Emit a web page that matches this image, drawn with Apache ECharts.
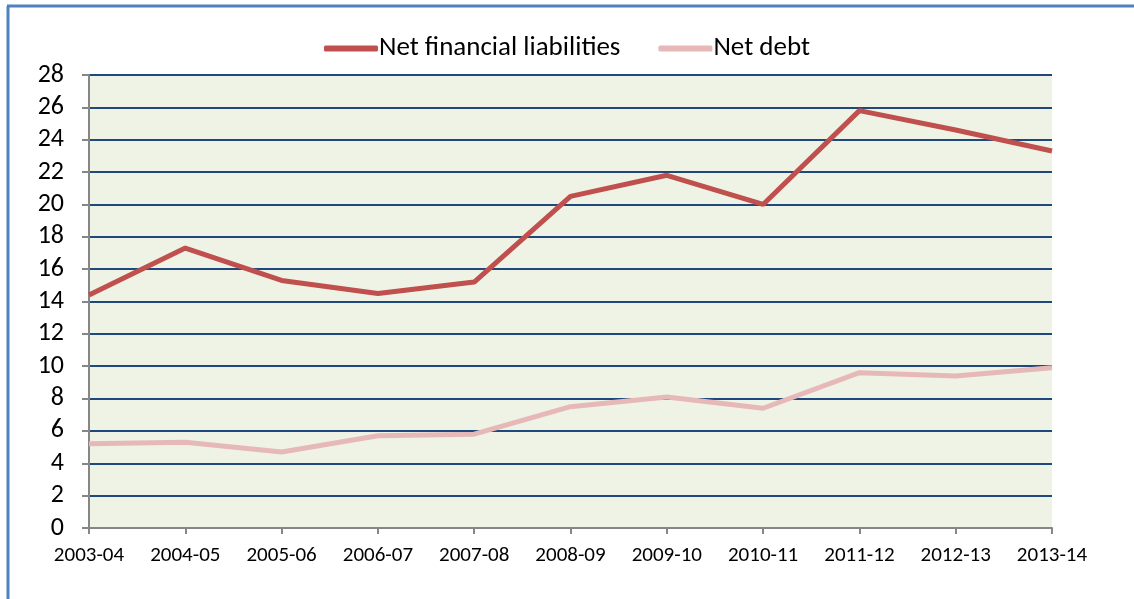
<!DOCTYPE html>
<html>
<head>
<meta charset="utf-8">
<script src="https://cdn.jsdelivr.net/npm/echarts@6/dist/echarts.min.js"></script>
<style>
html,body{margin:0;padding:0;background:#fff;}
#chart{width:1134px;height:599px;}
</style>
</head>
<body>
<div id="chart"></div>
<script>
const categories = ['2003-04','2004-05','2005-06','2006-07','2007-08','2008-09','2009-10','2010-11','2011-12','2012-13','2013-14'];
const netFinancialLiabilities = [14.4, 17.3, 15.3, 14.5, 15.2, 20.5, 21.8, 20.0, 25.8, 24.6, 23.3];
const netDebt = [5.2, 5.3, 4.7, 5.7, 5.8, 7.5, 8.1, 7.4, 9.6, 9.4, 9.9];
const yTicks = {min: 0, max: 28, interval: 2};

const font = 'Carlito, Calibri, "Open Sans", "Noto Sans", sans-serif';
const chart = echarts.init(document.getElementById('chart'), null, {renderer: 'canvas'});
chart.setOption({
  animation: false,
  backgroundColor: '#fff',
  textStyle: {fontFamily: font},
  graphic: [
    {type: 'line', shape: {x1: 8, y1: 6, x2: 8, y2: 599}, style: {stroke: '#4F81BD', lineWidth: 3}},
    {type: 'line', shape: {x1: 7, y1: 6, x2: 1134, y2: 6}, style: {stroke: '#4F81BD', lineWidth: 3}}
  ],
  legend: {
    top: 30,
    left: 'center',
    itemWidth: 54,
    itemHeight: 6,
    itemGap: 38,
    icon: 'roundRect',
    textStyle: {fontFamily: font, fontSize: 27, color: '#000', padding: [0,0,0,-4]},
    data: ['Net financial liabilities', 'Net debt']
  },
  grid: {
    left: 89, right: 82, top: 75, bottom: 71,
    show: true, backgroundColor: '#EFF3E6', borderWidth: 0
  },
  xAxis: {
    type: 'category',
    data: categories,
    boundaryGap: false,
    axisLine: {lineStyle: {color: '#868686', width: 2}},
    axisTick: {show: true, length: 6, lineStyle: {color: '#868686', width: 2}},
    axisLabel: {color: '#000', fontSize: 21, fontFamily: font, margin: 17},
    splitLine: {show: false}
  },
  yAxis: {
    type: 'value',
    min: yTicks.min, max: yTicks.max, interval: yTicks.interval,
    axisLine: {show: true, lineStyle: {color: '#868686', width: 2}},
    axisTick: {show: true, length: 7, lineStyle: {color: '#868686', width: 2}},
    axisLabel: {color: '#000', fontSize: 26, fontFamily: font, margin: 25},
    splitLine: {show: true, lineStyle: {color: '#1F497D', width: 2}}
  },
  series: [
    {
      name: 'Net financial liabilities', type: 'line', data: netFinancialLiabilities,
      showSymbol: false, symbol: 'none',
      lineStyle: {color: '#C0504D', width: 5},
      itemStyle: {color: '#C0504D'}
    },
    {
      name: 'Net debt', type: 'line', data: netDebt,
      showSymbol: false, symbol: 'none',
      lineStyle: {color: '#E6B9B8', width: 5},
      itemStyle: {color: '#E6B9B8'}
    }
  ]
});
</script>
</body>
</html>
